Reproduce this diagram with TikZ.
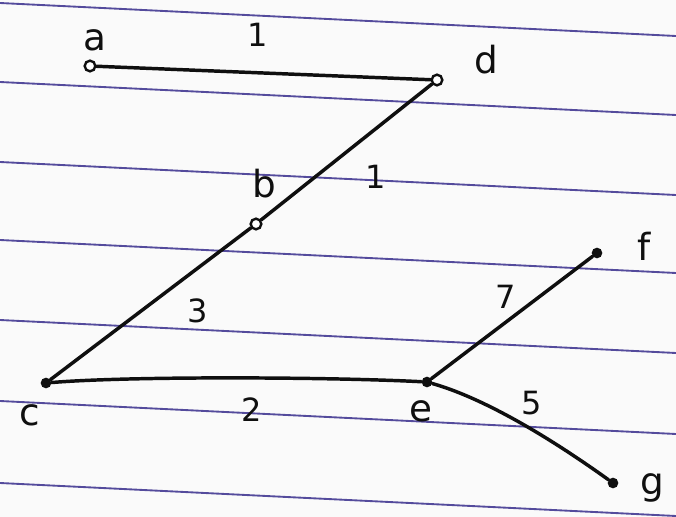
\documentclass[tikz,border=0pt]{standalone}
\usepackage{fontspec}
\setmainfont{DejaVu Sans}
\definecolor{rule}{RGB}{55,45,140}
\definecolor{ink}{RGB}{15,15,15}
\begin{document}
\begin{tikzpicture}[x=0.75pt,y=-0.75pt,
  ruling/.style={draw=rule,line width=1.4pt,opacity=0.85},
  edge/.style={draw=ink,line width=2.6pt,line cap=round},
  opendot/.style={circle,draw=ink,line width=1.8pt,fill=white,inner sep=0pt,minimum size=8pt},
  filldot/.style={circle,fill=ink,inner sep=0pt,minimum size=8pt},
  lbl/.style={font=\fontsize{28}{30}\selectfont,text=ink},
  wt/.style={font=\fontsize{24}{26}\selectfont,text=ink}]
\useasboundingbox (0,0) rectangle (676,517);
\fill[white!96!gray] (0,0) rectangle (676,517);
% ruled paper lines
\foreach \y in {3,82,162,240,320,401,483}{
  \draw[ruling] (0,\y) -- (676,\y+33);
}
% vertices
\node[opendot] (a) at (90,66) {};
\node[opendot] (d) at (437,80) {};
\node[opendot] (b) at (256,224) {};
\node[filldot] (c) at (46,383) {};
\node[filldot] (e) at (427,382) {};
\node[filldot] (f) at (597,253) {};
\node[filldot] (g) at (613,483) {};
% edges
\draw[edge] (a) -- (d);
\draw[edge] (d) -- (b);
\draw[edge] (b) -- (c);
\draw[edge] (c) .. controls (130,376) and (330,377) .. (e);
\draw[edge] (e) -- (f);
\draw[edge] (e) .. controls (490,400) and (560,445) .. (g);
% vertex labels
\node[lbl] (la) at (95,40) {a};
\node[lbl] (ld) at (486,60) {d};
\node[lbl] (lb) at (264,184) {b};
\node[lbl] (lc) at (30,415) {c};
\node[lbl] (le) at (421,411) {e};
\node[lbl] (lf) at (644,246) {f};
\node[lbl] (lg) at (652,488) {g};
% weights
\node[wt] (w1) at (258,35) {1};
\node[wt] (w2) at (376,177) {1};
\node[wt] (w3) at (198,311) {3};
\node[wt] (w4) at (252,410) {2};
\node[wt] (w5) at (506,297) {7};
\node[wt] (w6) at (532,403) {5};
\end{tikzpicture}
\end{document}
